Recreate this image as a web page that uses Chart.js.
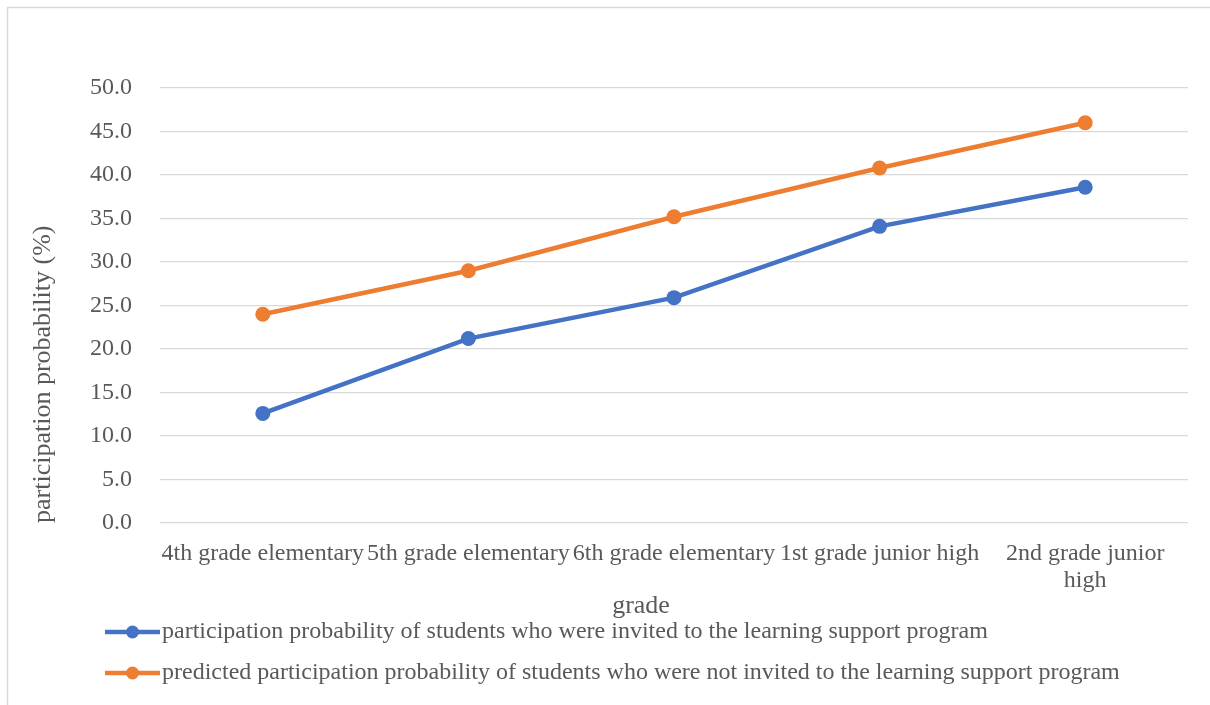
<!DOCTYPE html>
<html>
<head>
<meta charset="utf-8">
<script src="https://cdn.jsdelivr.net/npm/chart.js@4"></script>
<style>
  html, body { margin: 0; padding: 0; background: #fff; }
  #wrap { width: 1210px; height: 705px; position: relative; }
</style>
</head>
<body>
<div id="wrap"><canvas id="chart"></canvas></div>
<script>
/* ── Data ── */
const grades = [
  '4th grade elementary',
  '5th grade elementary',
  '6th grade elementary',
  '1st grade junior high',
  ['2nd grade junior', 'high']
];
const invited    = [12.6, 21.2, 25.9, 34.1, 38.6];
const notInvited = [24.0, 29.0, 35.2, 40.8, 46.0];
const yTicks = { min: 0, max: 50, step: 5 };

const labelInvited    = 'participation probability of students who were invited to the learning support program';
const labelNotInvited = 'predicted participation probability of students who were not invited to the learning support program';
const xTitle = 'grade';
const yTitle = 'participation probability (%)';

const BLUE = '#4472C4', ORANGE = '#ED7D31';
const FONT = 'Liberation Serif';
const TXT = '#595959';

/* ── Frame, x title + legend drawn by hand ── */
const framePlugin = {
  id: 'frame',
  beforeDraw(chart) {
    const c = chart.ctx;
    c.save();
    c.fillStyle = '#fff';
    c.fillRect(0, 0, chart.width, chart.height);
    c.strokeStyle = '#d9d9d9'; c.lineWidth = 1.5;
    c.strokeRect(7.5, 7.5, chart.width + 20, chart.height + 20);
    c.restore();
  },
  afterDraw(chart) {
    const c = chart.ctx;
    c.save();
    // x axis title (sits a bit left of plot centre, like the original)
    c.fillStyle = TXT; c.font = '26px ' + FONT;
    c.textAlign = 'center'; c.textBaseline = 'middle';
    c.fillText(xTitle, 641, 606);
    // legend
    const rows = [632, 673];
    chart.data.datasets.forEach((ds, i) => {
      const y = rows[i];
      c.strokeStyle = ds.borderColor; c.lineWidth = 4.5; c.lineCap = 'butt';
      c.beginPath(); c.moveTo(105, y); c.lineTo(160, y); c.stroke();
      c.fillStyle = ds.borderColor;
      c.beginPath(); c.arc(132.5, y, 6.5, 0, Math.PI * 2); c.fill();
      c.fillStyle = TXT; c.font = '24px ' + FONT;
      c.textAlign = 'left'; c.textBaseline = 'middle';
      c.fillText(ds.label, 162, y);
    });
    c.restore();
  }
};

const mkSeries = (label, data, color) => ({
  label, data, borderColor: color, backgroundColor: color,
  borderWidth: 4.5, pointRadius: 7.5, pointHoverRadius: 7.5,
  pointBackgroundColor: color, pointBorderColor: color, pointBorderWidth: 0,
  tension: 0, fill: false
});

new Chart(document.getElementById('chart'), {
  type: 'line',
  data: {
    labels: grades,
    datasets: [
      mkSeries(labelInvited, invited, BLUE),
      mkSeries(labelNotInvited, notInvited, ORANGE)
    ]
  },
  options: {
    responsive: true, maintainAspectRatio: false, animation: false,
    layout: { padding: { top: 88, right: 22, bottom: 87, left: 0 } },
    plugins: { legend: { display: false }, tooltip: { enabled: false } },
    scales: {
      x: {
        offset: true,
        grid: { display: false },
        border: { display: false },
        ticks: { color: TXT, font: { family: FONT, size: 24, lineHeight: 1.12 },
                 maxRotation: 0, autoSkip: false, padding: 9 },
        afterFit: s => { s.height = 95; }
      },
      y: {
        min: yTicks.min, max: yTicks.max,
        grid: { color: '#d9d9d9', lineWidth: 1.3, drawTicks: false },
        border: { display: false },
        ticks: { stepSize: yTicks.step, color: TXT, font: { family: FONT, size: 24 }, padding: 28,
                 callback: v => v.toFixed(1) },
        title: { display: true, text: yTitle, color: TXT, align: 'start',
                 font: { family: FONT, size: 26 }, padding: { top: 28, bottom: 0 } },
        afterFit: s => { s.width = 160; }
      }
    }
  },
  plugins: [framePlugin]
});
</script>
</body>
</html>
